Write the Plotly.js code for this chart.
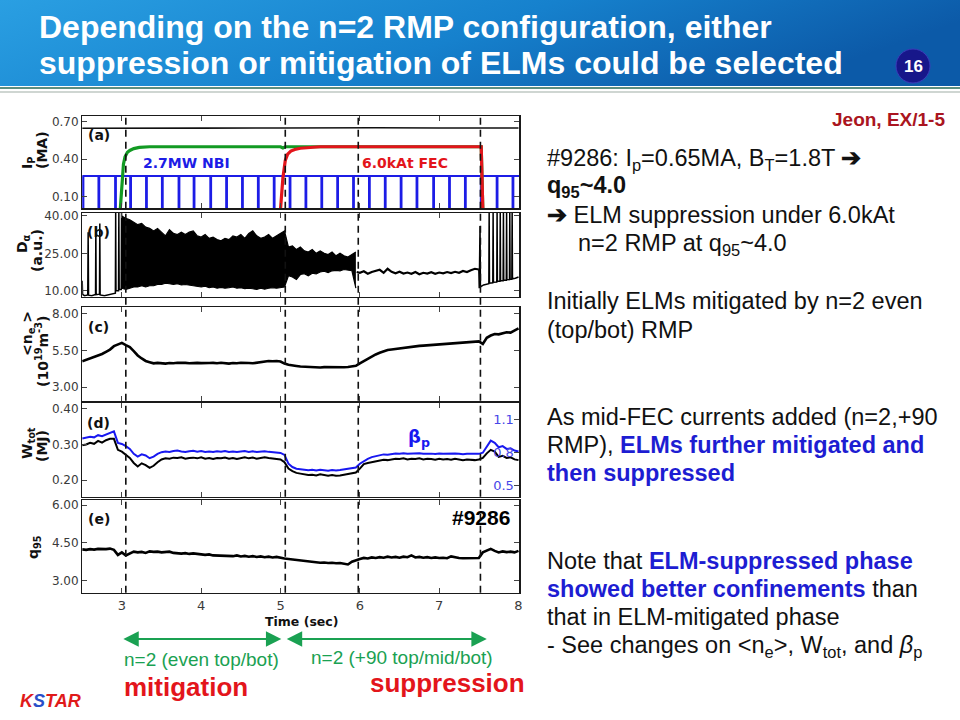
<!DOCTYPE html>
<html><head><meta charset="utf-8">
<script src="https://cdn.plot.ly/plotly-3.0.1.min.js"></script>
<style>html,body{margin:0;padding:0;background:#fff;}#chart{width:960px;height:720px;}</style>
</head><body><div id="chart"></div>
<script>
// ================= DATA =================
const xTicks = [3, 4, 5, 6, 7, 8];
const timeRange = [2.5, 8.01];
const sampleStart = 2.5, sampleStep = 0.05;   // uniform sampling of slow signals

// (a) plasma current, NBI power (norm.), FEC current (norm.), NBI modulation
const ipTime = [2.5, 3.0, 4.0, 5.0, 5.8, 5.9, 5.96, 6.05, 6.2, 7.0, 8.0];
const ipVal  = [0.648, 0.650, 0.649, 0.650, 0.651, 0.655, 0.657, 0.655, 0.652, 0.650, 0.650];
const nbiTime = [2.98, 3.00, 3.02, 3.04, 3.07, 3.10, 3.15, 3.22, 3.35, 5.00, 5.03, 5.06, 7.53, 7.55];
const nbiVal  = [0.0, 0.20, 0.36, 0.42, 0.455, 0.47, 0.485, 0.495, 0.50, 0.50, 0.49, 0.50, 0.50, 0.0];
const fecTime = [5.00, 5.03, 5.06, 5.09, 5.13, 5.18, 5.25, 5.35, 5.50, 7.53, 7.55];
const fecVal  = [0.0, 0.25, 0.39, 0.44, 0.465, 0.478, 0.488, 0.495, 0.50, 0.50, 0.0];
const nbiModDrops = [2.51, 2.71, 2.92, 3.11, 3.31, 3.51, 3.72, 3.91, 4.12, 4.32, 4.52, 4.72, 4.92, 5.12,
                     5.32, 5.52, 5.72, 5.92, 6.12, 6.32, 6.52, 6.72, 6.93, 7.13, 7.33, 7.53, 7.73, 7.93];
const nbiModLevels = [0.266, 0.01];   // on / off level

// (b) D-alpha
const daPreTime = [2.500, 2.505, 2.530, 2.570, 2.575, 2.580, 2.620, 2.668, 2.672, 2.676, 2.718, 2.722, 2.726,
                   2.780, 2.840, 2.880, 2.918, 2.922, 2.926, 2.958, 2.962, 2.966, 2.992, 2.996, 3.000];
const daPreVal  = [14.0, 8.5, 8.0, 8.3, 33.5, 8.2, 8.0, 8.5, 35.5, 8.4, 8.6, 37.0, 8.3,
                   8.0, 8.4, 8.8, 9.0, 42, 10.0, 10.0, 42, 10.5, 10.5, 42, 11.0];
const daElmStart = 3.0;   // dense ELM region, envelope sampled every sampleStep
const daElmUpper = [40, 39, 38.5, 37.5, 36.5, 37, 35.5, 35, 34, 35,
                    33.5, 32, 34.5, 33, 32.5, 33.5, 32.5, 33.5, 34, 32,
                    31.5, 32.5, 31, 31.5, 30.5, 30, 31, 30.5, 32, 31.5,
                    32.5, 31, 33, 34, 32, 31, 31.5, 32.5, 31, 32,
                    33, 34, 27.5, 28, 26.5, 27.5, 26, 25.5, 26.5, 25,
                    26, 25, 24.5, 25.5, 24, 25, 24, 23.5, 24.5, 25.5];
const daElmLower = [11, 10.5, 11, 11.5, 11.5, 12, 11.5, 12, 12, 12.5,
                    12.5, 13, 12.8, 12.5, 12.8, 12.3, 12.5, 12.2, 12, 11.8,
                    11.5, 11.8, 11.2, 11.5, 11, 11.3, 11, 11.2, 11.5, 11,
                    11.2, 10.8, 11, 10.8, 10.5, 11, 10.6, 11, 11.2, 11,
                    11.3, 11.5, 16, 15.5, 14.5, 16.5, 16.8, 16, 17, 16.8,
                    17.5, 17.8, 17.3, 18, 18.2, 18, 18.5, 18.2, 18, 11];
const daSupTime = [5.96, 6.00, 6.05, 6.10, 6.15, 6.20, 6.25, 6.30, 6.35, 6.40, 6.45, 6.50, 6.55, 6.60, 6.65, 6.70,
                   6.75, 6.80, 6.85, 6.90, 6.95, 7.00, 7.05, 7.10, 7.15, 7.20, 7.25, 7.30, 7.35, 7.40, 7.45, 7.50];
const daSupVal  = [17.5, 17.2, 17.8, 16.8, 17.5, 18.0, 18.4, 17.2, 18.8, 17.6, 17.0, 17.6, 16.9, 17.3, 16.8, 17.5,
                   16.6, 17.2, 16.9, 17.4, 16.8, 17.3, 17.0, 17.5, 17.1, 17.6, 17.2, 17.9, 17.5, 18.2, 18.8, 18.5];
const daPostTime = [7.500, 7.505, 7.515, 7.520, 7.560, 7.600, 7.626, 7.630, 7.634, 7.676, 7.680, 7.684, 7.726, 7.730, 7.734,
                    7.766, 7.770, 7.774, 7.806, 7.810, 7.814, 7.846, 7.850, 7.854, 7.886, 7.890, 7.894, 7.916, 7.920, 7.924, 7.960, 8.000];
const daPostVal  = [18.5, 11.0, 36.0, 11.5, 12.3, 12.5, 12.8, 42, 13.0, 13.2, 42, 13.4, 13.5, 42, 13.8,
                    13.8, 42, 14.0, 14.0, 42, 14.2, 14.2, 42, 14.4, 14.5, 42, 14.6, 14.6, 42, 14.8, 15.0, 15.5];

// (c) line-averaged density (1e19 m^-3), t = 2.50 ... 8.00 step 0.05
const neVal = [4.75, 4.85, 4.90, 5.00, 5.12, 5.25, 5.40, 5.55, 5.78, 5.90,
               6.00, 5.85, 5.72, 5.45, 5.15, 4.95, 4.78, 4.70, 4.62, 4.65,
               4.62, 4.60, 4.64, 4.62, 4.66, 4.63, 4.65, 4.62, 4.66, 4.65,
               4.63, 4.66, 4.64, 4.65, 4.62, 4.66, 4.63, 4.60, 4.64, 4.62,
               4.66, 4.63, 4.64, 4.62, 4.66, 4.70, 4.74, 4.78, 4.76, 4.78,
               4.74, 4.60, 4.52, 4.50, 4.44, 4.40, 4.38, 4.36, 4.35, 4.37,
               4.34, 4.36, 4.35, 4.37, 4.34, 4.36, 4.35, 4.37, 4.40, 4.45,
               4.62, 4.78, 4.95, 5.10, 5.22, 5.33, 5.43, 5.52, 5.56, 5.60,
               5.65, 5.68, 5.70, 5.74, 5.76, 5.80, 5.82, 5.84, 5.86, 5.87,
               5.90, 5.92, 5.94, 5.96, 5.98, 6.00, 6.02, 6.04, 6.06, 6.08,
               6.10, 5.93, 6.35, 6.50, 6.60, 6.58, 6.66, 6.72, 6.70, 6.82,
               6.98];

// (d) stored energy (MJ) and poloidal beta, same sampling
const wtotVal = [0.298, 0.300, 0.305, 0.302, 0.310, 0.305, 0.312, 0.316, 0.316, 0.285,
                 0.280, 0.272, 0.262, 0.248, 0.238, 0.247, 0.242, 0.234, 0.240, 0.250,
                 0.258, 0.261, 0.260, 0.263, 0.262, 0.264, 0.260, 0.262, 0.263, 0.261,
                 0.264, 0.260, 0.262, 0.259, 0.262, 0.261, 0.263, 0.260, 0.262, 0.259,
                 0.262, 0.264, 0.261, 0.263, 0.260, 0.262, 0.264, 0.262, 0.260, 0.259,
                 0.258, 0.250, 0.232, 0.225, 0.220, 0.218, 0.216, 0.214, 0.215, 0.213,
                 0.216, 0.214, 0.212, 0.214, 0.212, 0.213, 0.215, 0.217, 0.219, 0.221,
                 0.232, 0.245, 0.248, 0.250, 0.252, 0.255, 0.257, 0.256, 0.258, 0.260,
                 0.259, 0.261, 0.258, 0.260, 0.259, 0.261, 0.258, 0.260, 0.259, 0.257,
                 0.260, 0.258, 0.259, 0.257, 0.260, 0.258, 0.256, 0.258, 0.257, 0.256,
                 0.258, 0.262, 0.275, 0.285, 0.280, 0.265, 0.268, 0.262, 0.264, 0.258,
                 0.256];
const betapVal = [0.930, 0.935, 0.945, 0.940, 0.960, 0.950, 0.965, 0.985, 0.995, 0.890,
                  0.880, 0.860, 0.835, 0.790, 0.765, 0.785, 0.775, 0.750, 0.765, 0.790,
                  0.805, 0.812, 0.808, 0.815, 0.820, 0.812, 0.808, 0.814, 0.818, 0.810,
                  0.815, 0.808, 0.812, 0.806, 0.814, 0.810, 0.816, 0.808, 0.812, 0.806,
                  0.812, 0.816, 0.808, 0.814, 0.806, 0.810, 0.814, 0.808, 0.804, 0.800,
                  0.798, 0.780, 0.700, 0.670, 0.655, 0.650, 0.645, 0.640, 0.645, 0.638,
                  0.646, 0.640, 0.636, 0.642, 0.638, 0.642, 0.648, 0.652, 0.658, 0.665,
                  0.700, 0.725, 0.745, 0.760, 0.770, 0.778, 0.785, 0.782, 0.788, 0.794,
                  0.790, 0.796, 0.790, 0.794, 0.792, 0.796, 0.790, 0.794, 0.792, 0.788,
                  0.794, 0.790, 0.792, 0.788, 0.794, 0.790, 0.786, 0.790, 0.788, 0.786,
                  0.790, 0.800, 0.860, 0.910, 0.890, 0.850, 0.860, 0.835, 0.840, 0.820,
                  0.812];

// (e) q95, same sampling
const q95Val = [4.24, 4.22, 4.25, 4.23, 4.26, 4.24, 4.25, 4.27, 4.22, 4.02,
                4.12, 4.00, 4.06, 4.15, 4.12, 4.14, 4.10, 4.16, 4.14, 4.15,
                4.12, 4.13, 4.15, 4.10, 4.08, 4.07, 4.09, 4.06, 4.08, 4.05,
                4.04, 4.02, 4.04, 4.00, 3.99, 4.01, 3.98, 3.99, 3.97, 4.00,
                3.96, 3.98, 3.95, 3.97, 3.94, 3.96, 3.93, 3.95, 3.92, 3.94,
                3.90, 3.88, 3.86, 3.84, 3.82, 3.80, 3.77, 3.76, 3.74, 3.72,
                3.71, 3.72, 3.70, 3.71, 3.69, 3.70, 3.66, 3.64, 3.75, 3.82,
                3.86, 3.90, 3.88, 3.92, 3.90, 3.93, 3.91, 3.95, 3.92, 3.94,
                3.91, 3.95, 3.93, 4.00, 3.92, 3.94, 3.91, 3.93, 3.90, 3.92,
                3.90, 3.91, 3.89, 3.96, 3.92, 3.90, 3.89, 3.90, 3.88, 3.89,
                3.90, 4.12, 4.20, 4.26, 4.18, 4.12, 4.16, 4.13, 4.15, 4.12,
                4.18];

// event times (dashed lines) and RMP phases (arrows)
const eventTimes = [3.05, 5.06, 5.98, 7.52];
const phaseStart = [3.00, 5.06];
const phaseEnd   = [5.01, 7.60];

// axis ticks / ranges
const ipTicks = [0.1, 0.4, 0.7],  ipRange = [0.007, 0.746];
const daTicks = [10, 25, 40],     daRange = [7.6, 41.3];
const neTicks = [3, 5.5, 8],      neRange = [2.07, 8.41];
const wTicks  = [0.2, 0.3, 0.4],  wRange  = [0.153, 0.416];
const bpTicks = [0.5, 0.8, 1.1],  bpRange = [0.40, 1.25];
const qTicks  = [3, 4.5, 6],      qRange  = [2.52, 6.2];

// ================= FIGURE =================
const W = 960, H = 720;
const px = v => v / W, py = v => 1 - v / H;
const XD = [px(82.2), px(519.3)];
const panelPx = [[116, 208.3], [212.7, 296.7], [307.3, 401], [403.3, 496.7], [500, 592.7]];
const YD = panelPx.map(p => [py(p[1]), py(p[0])]);

const C = {blue: '#1c1ce6', green: '#129a23', red: '#e3151b', bp: '#1818f0', txtBlue: '#1d1dd2', arrow: '#1aa152'};

// NBI modulation square wave built from drop times
const modX = [timeRange[0]], modY = [nbiModLevels[0]];
nbiModDrops.forEach(d => {
  modX.push(d - 0.005, d - 0.005, d + 0.005, d + 0.005);
  modY.push(nbiModLevels[0], nbiModLevels[1], nbiModLevels[1], nbiModLevels[0]);
});
modX.push(timeRange[1]); modY.push(nbiModLevels[0]);

const line = (c, w) => ({color: c, width: w});
const traces = [
  {x: modX, y: modY, xaxis: 'x', yaxis: 'y', mode: 'lines', line: line(C.blue, 2)},
  {x: ipTime, y: ipVal, xaxis: 'x', yaxis: 'y', mode: 'lines', line: line('#111', 1.6)},
  {x: nbiTime, y: nbiVal, xaxis: 'x', yaxis: 'y', mode: 'lines', line: line(C.green, 3.2)},
  {x: fecTime, y: fecVal, xaxis: 'x', yaxis: 'y', mode: 'lines', line: line(C.red, 3.2)},

  {x: daPreTime, y: daPreVal, xaxis: 'x2', yaxis: 'y2', mode: 'lines', line: line('#000', 1.5)},
  {y: daElmLower, x0: daElmStart, dx: sampleStep, xaxis: 'x2', yaxis: 'y2', mode: 'lines', line: line('#000', 1.2)},
  {y: daElmUpper, x0: daElmStart, dx: sampleStep, xaxis: 'x2', yaxis: 'y2', mode: 'lines', line: line('#000', 1.2),
   fill: 'tonexty', fillcolor: '#000'},
  {x: daSupTime, y: daSupVal, xaxis: 'x2', yaxis: 'y2', mode: 'lines', line: line('#000', 2.2)},
  {x: daPostTime, y: daPostVal, xaxis: 'x2', yaxis: 'y2', mode: 'lines', line: line('#000', 1.5)},

  {y: neVal, x0: sampleStart, dx: sampleStep, xaxis: 'x3', yaxis: 'y3', mode: 'lines', line: line('#000', 2.6)},
  {y: betapVal, x0: sampleStart, dx: sampleStep, xaxis: 'x4', yaxis: 'y6', mode: 'lines', line: line(C.bp, 2)},
  {y: wtotVal, x0: sampleStart, dx: sampleStep, xaxis: 'x4', yaxis: 'y4', mode: 'lines', line: line('#000', 2)},
  {y: q95Val, x0: sampleStart, dx: sampleStep, xaxis: 'x5', yaxis: 'y5', mode: 'lines', line: line('#000', 2.6)}
].map(t => Object.assign({hoverinfo: 'skip', showlegend: false}, t));

const tickFont = {family: 'DejaVu Sans', size: 12, color: '#3a3a3a'};
function xAxis(i) {
  return {domain: XD, range: timeRange, anchor: i === 1 ? 'y' : 'y' + i, matches: i === 1 ? undefined : 'x',
    showline: true, mirror: 'ticks', linecolor: '#1a1a1a', linewidth: 1.2,
    ticks: 'inside', ticklen: 5, tickcolor: '#444', tickvals: xTicks,
    showticklabels: i === 5, tickfont: {family: 'DejaVu Sans', size: 13, color: '#3a3a3a'},
    showgrid: false, zeroline: false, fixedrange: true};
}
function yAxis(i, ticks, range, mirror) {
  return {domain: YD[i - 1], range: range, anchor: i === 1 ? 'x' : 'x' + i,
    showline: true, mirror: mirror, linecolor: '#1a1a1a', linewidth: 1.2,
    ticks: 'inside', ticklen: 5, tickcolor: '#444', tickvals: ticks, tickformat: '.2f',
    tickfont: tickFont, showgrid: false, zeroline: false, fixedrange: true};
}

const ann = [];
const A = o => ann.push(Object.assign({showarrow: false, xref: 'paper', yref: 'paper', xanchor: 'center', yanchor: 'middle'}, o));
const T = (x, y, text, size, color, opts) => A(Object.assign({x: px(x), y: py(y), text: text,
  font: {family: 'Liberation Sans, Arial', size: size, color: color}, xanchor: 'left'}, opts || {}));

// slide title
T(37, 27, '<b>Depending on the n=2 RMP configuration, either</b>', 32, '#ffffff');
T(37, 63, '<b>suppression or mitigation of ELMs could be selected</b>', 32, '#ffffff');
T(913, 66, '<b>16</b>', 17, '#ffffff', {xanchor: 'center'});
T(947, 120, '<b>Jeon, EX/1-5</b>', 19, '#aa1520', {xanchor: 'right'});

// panel labels
const panelLabels = ['(a)', '(b)', '(c)', '(d)', '(e)'];
const panelLabelY = [0.794, 0.774, 0.793, 0.786, 0.792];
panelLabels.forEach((s, i) => A({xref: 'x' + (i ? i + 1 : ''), yref: 'y' + (i ? i + 1 : '') + ' domain',
  x: 2.71, y: panelLabelY[i], text: '<b>' + s + '</b>', font: {family: 'DejaVu Sans', size: 14, color: '#111'}}));

// in-panel labels
A({xref: 'x', yref: 'y domain', x: 3.82, y: 0.4875, text: '<b>2.7MW NBI</b>', font: {family: 'DejaVu Sans', size: 14, color: C.blue}});
A({xref: 'x', yref: 'y domain', x: 6.57, y: 0.4875, text: '<b>6.0kAt FEC</b>', font: {family: 'DejaVu Sans', size: 14, color: C.red}});
A({xref: 'x4', yref: 'y4 domain', x: 6.75, y: 0.632, text: '<b>β<sub>p</sub></b>', font: {family: 'DejaVu Sans', size: 18, color: C.bp}});
A({xref: 'x5', yref: 'y5 domain', x: 7.92, y: 0.813, xanchor: 'right', text: '<b>#9286</b>', font: {family: 'Liberation Sans, Arial', size: 21, color: '#000'}});

// y-axis titles
const yt = (x, y, text) => A({x: px(x), y: py(y), text: '<b>' + text + '</b>', textangle: -90,
  font: {family: 'DejaVu Sans', size: 14, color: '#111'}});
yt(28, 163, 'I<sub>P</sub>');
yt(42, 150, '(MA)');
yt(23, 244, 'D<sub>α</sub>');
yt(37, 251, '(a.u.)');
yt(28, 334, '&lt;n<sub>e</sub> &gt;');
yt(42, 352, '(10<sup>19</sup>m<sup>-3</sup>)');
yt(28, 443, 'W<sub>tot</sub>');
yt(42, 446, '(MJ)');
yt(34, 547, 'q<sub>95</sub>');

// x-axis title
A({x: px(301.7), y: py(621), text: '<b>Time (sec)</b>', font: {family: 'DejaVu Sans', size: 12.5, color: '#111'}});

// RMP phase arrows and labels
phaseStart.forEach((s, i) => A({xref: 'x5', yref: 'paper', x: phaseEnd[i], y: py(639), ax: s, axref: 'x5', ay: 0, ayref: 'pixel',
  showarrow: true, arrowside: 'end+start', arrowhead: 2, startarrowhead: 2, arrowsize: 1.4, startarrowsize: 1.4,
  arrowwidth: 2.2, arrowcolor: C.arrow, text: ''}));
T(201.7, 659, 'n=2 (even top/bot)', 19, C.arrow, {xanchor: 'center'});
T(402, 657, 'n=2 (+90 top/mid/bot)', 19, C.arrow, {xanchor: 'center'});
T(186, 687, '<b>mitigation</b>', 26, C.red, {xanchor: 'center'});
T(447, 683, '<b>suppression</b>', 26, C.red, {xanchor: 'center'});
T(18, 701, '<b><i>K<span style="color:#2a4fc8">S</span>TAR</i></b>', 18, '#e01a1a');

// right-hand notes
const B = s => '<span style="color:' + C.txtBlue + '"><b>' + s + '</b></span>';
const notes = [
  [545, 159, '#9286: I<sub>p</sub>=0.65MA, B<sub>T</sub>=1.8T <b>➔</b>'],
  [545, 187, '<b>q<sub>95</sub>~4.0</b>'],
  [545, 215, '<b>➔</b> ELM suppression under 6.0kAt'],
  [576, 244, 'n=2 RMP at q<sub>95</sub>~4.0'],
  [545, 301, 'Initially ELMs mitigated by n=2 even'],
  [545, 330, '(top/bot) RMP'],
  [545, 417, 'As mid-FEC currents added (n=2,+90'],
  [545, 445, 'RMP), ' + B('ELMs further mitigated and')],
  [545, 473, B('then suppressed')],
  [545, 561, 'Note that ' + B('ELM-suppressed phase')],
  [545, 589, B('showed better confinements') + ' than'],
  [545, 617, 'that in ELM-mitigated phase'],
  [545, 646, '- See changes on &lt;n<sub>e</sub>&gt;, W<sub>tot</sub>, and <i>β</i><sub>p</sub>']
];
notes.forEach(n => T(n[0], n[1], n[2], 23.5, '#111'));

// shapes: event lines, header decorations, page badge
const shapes = eventTimes.map(t => ({type: 'line', xref: 'x5', yref: 'paper', x0: t, x1: t, y0: YD[4][0], y1: YD[0][1],
  line: {color: '#111', width: 1.6, dash: '7px,5px'}}));
shapes.push({type: 'line', xref: 'paper', yref: 'paper', x0: 0, x1: 1, y0: py(88), y1: py(88), line: {color: '#5e8f80', width: 2}});
shapes.push({type: 'line', xref: 'paper', yref: 'paper', x0: 0, x1: 1, y0: py(92), y1: py(92), line: {color: '#cfd6d2', width: 2}});
shapes.push({type: 'circle', xref: 'paper', yref: 'paper', x0: px(896), x1: px(930), y0: py(83), y1: py(49),
  fillcolor: '#17178a', line: {color: '#3b3bbb', width: 1}});

const bannerSvg = "<svg xmlns='http://www.w3.org/2000/svg' width='960' height='86'><defs>" +
  "<linearGradient id='g' x1='0' y1='0' x2='1' y2='0.25'><stop offset='0' stop-color='#2a9fe2'/>" +
  "<stop offset='0.55' stop-color='#1681cd'/><stop offset='1' stop-color='#0c5aa8'/></linearGradient></defs>" +
  "<rect width='960' height='86' fill='url(#g)'/></svg>";

const layout = {
  width: W, height: H, margin: {l: 0, r: 0, t: 0, b: 0}, showlegend: false,
  paper_bgcolor: '#ffffff', plot_bgcolor: '#ffffff',
  xaxis: xAxis(1), xaxis2: xAxis(2), xaxis3: xAxis(3), xaxis4: xAxis(4), xaxis5: xAxis(5),
  yaxis: yAxis(1, ipTicks, ipRange, 'ticks'),
  yaxis2: yAxis(2, daTicks, daRange, 'ticks'),
  yaxis3: yAxis(3, neTicks, neRange, 'ticks'),
  yaxis4: yAxis(4, wTicks, wRange, true),
  yaxis5: yAxis(5, qTicks, qRange, 'ticks'),
  yaxis6: {overlaying: 'y4', anchor: 'x4', side: 'right', range: bpRange, tickvals: bpTicks, tickformat: '.1f',
    ticks: 'inside', ticklen: 5, tickcolor: '#444', ticklabelposition: 'inside',
    tickfont: {family: 'DejaVu Sans', size: 13, color: '#4646e8'}, showgrid: false, zeroline: false, showline: false, fixedrange: true},
  annotations: ann, shapes: shapes,
  images: [{source: 'data:image/svg+xml;charset=utf-8,' + encodeURIComponent(bannerSvg), xref: 'paper', yref: 'paper',
    x: 0, y: 1, sizex: 1, sizey: 86 / H, xanchor: 'left', yanchor: 'top', sizing: 'stretch', layer: 'below'}]
};

Plotly.newPlot('chart', traces, layout, {displayModeBar: false, staticPlot: true});
</script>
</body></html>
